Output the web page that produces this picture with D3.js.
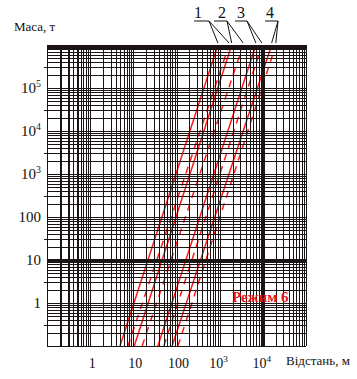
<!DOCTYPE html>
<html><head><meta charset="utf-8">
<script src="https://cdn.jsdelivr.net/npm/d3@7/dist/d3.min.js"></script>
<style>html,body{margin:0;padding:0;background:#fff;}svg{display:block;}</style>
</head><body>
<svg id="c" width="357" height="379"></svg>
<script>
// ---- data ----
const curveNames = ["1", "2", "3", "4"];
const massEnds = [0.1, 1e6];                 // mass (t) at the two ends of every line
const solidDist = [[4.9, 910], [10.5, 1900], [37, 6900], [79, 16000]];   // distance (m) at massEnds
const dashedDist = [[7.5, 1650], [16, 3500], [51, 9500], [108, 20000]];
const xTickValues = [1, 10, 100, 1000, 10000];
const xTickLabels = [["1", ""], ["10", ""], ["100", ""], ["10", "3"], ["10", "4"]];
const yTickValues = [1, 10, 100, 1000, 10000, 100000];
const yTickLabels = [["1", ""], ["10", ""], ["100", ""], ["10", "3"], ["10", "4"], ["10", "5"]];
const xTitle = "Відстань, м";
const yTitle = "Маса, т";
const modeLabel = "Режим 6";

// ---- layout ----
const svg = d3.select("#c");
const L = 47, R = 306, T = 45, B = 346;
const x = d3.scaleLog().domain([0.1, 1e5]).range([L, R]);
const y = d3.scaleLog().domain([0.1, 1e6]).range([B, T]);
const serif = "'Liberation Serif','DejaVu Serif',serif";

// red curves (drawn under the grid)
const line = d3.line().x(d => x(d[0])).y(d => y(d[1]));
const gCurves = svg.append("g");
solidDist.forEach(s => {
  gCurves.append("path").attr("d", line(s.map((r, i) => [r, massEnds[i]])))
    .attr("fill", "none").attr("stroke", "#ff1a1a").attr("stroke-width", 1.5);
});
dashedDist.forEach(s => {
  gCurves.append("path").attr("d", line(s.map((r, i) => [r, massEnds[i]])))
    .attr("fill", "none").attr("stroke", "#ff1a1a").attr("stroke-width", 1.5)
    .attr("stroke-dasharray", "7,6");
});

// grid
function logGrid(lo, hi) {
  const v = [];
  for (let e = Math.log10(lo); e < Math.log10(hi); e++)
    for (let k = 1; k <= 9; k++) v.push(k * Math.pow(10, e));
  v.push(hi);
  return v;
}
const thickX = [0.2, 0.3, 0.5, 1e4], thickY = [10, 9e5];
const near = (a, b) => Math.abs(Math.log10(a) - Math.log10(b)) < 1e-6;
const gGrid = svg.append("g").attr("shape-rendering", "crispEdges");
logGrid(0.1, 1e5).forEach(v => {
  const px = Math.round(x(v)) + 0.5;
  const thick = thickX.some(t => near(t, v));
  gGrid.append("line").attr("x1", px).attr("x2", px).attr("y1", T).attr("y2", B)
    .attr("stroke", "#1a1414").attr("stroke-width", thick ? (near(v, 1e4) ? 2.5 : 2) : 1.2);
});
logGrid(0.1, 1e6).forEach(v => {
  const py = Math.round(y(v)) + 0.5;
  const thick = thickY.some(t => near(t, v));
  gGrid.append("line").attr("x1", L).attr("x2", R).attr("y1", py).attr("y2", py)
    .attr("stroke", "#1a1414").attr("stroke-width", thick ? 2.5 : 1.2);
});
// small outer ticks on the left edge
[0.3, 3, 30, 300, 3000, 30000, 300000].forEach(v => {
  const py = Math.round(y(v)) + 0.5;
  gGrid.append("line").attr("x1", L - 3).attr("x2", L).attr("y1", py).attr("y2", py)
    .attr("stroke", "#1a1414").attr("stroke-width", 1);
});

// tick labels
function powLabel(g, lab, size) {
  g.append("tspan").text(lab[0]);
  if (lab[1]) g.append("tspan").text(lab[1]).attr("font-size", size * 0.66).attr("dy", -size * 0.42);
}
yTickValues.forEach((v, i) => {
  const t = svg.append("text").attr("x", 41).attr("y", y(v) + 5)
    .attr("text-anchor", "end").attr("font-family", serif).attr("font-size", 15).attr("fill", "#111");
  powLabel(t, yTickLabels[i], 15);
});
xTickValues.forEach((v, i) => {
  const t = svg.append("text").attr("x", x(v) + (xTickLabels[i][1] ? -1 : 2)).attr("y", 368)
    .attr("text-anchor", "middle").attr("font-family", serif).attr("font-size", 14).attr("fill", "#111");
  powLabel(t, xTickLabels[i], 14);
});

// axis titles
svg.append("text").attr("x", 14).attr("y", 31).text(yTitle)
  .attr("font-family", serif).attr("font-size", 13).attr("fill", "#111");
svg.append("text").attr("x", 286).attr("y", 365).text(xTitle)
  .attr("font-family", serif).attr("font-size", 13).attr("fill", "#111");

// curve labels with leaders
const labelPos = [{cx: 198, x1: 194, x2: 209}, {cx: 222, x1: 214, x2: 227},
                  {cx: 241, x1: 235, x2: 247}, {cx: 270, x1: 265, x2: 278}];
curveNames.forEach((n, i) => {
  const p = labelPos[i];
  svg.append("text").attr("x", p.cx).attr("y", 18).attr("text-anchor", "middle")
    .attr("font-family", serif).attr("font-size", 16).attr("fill", "#111").text(n);
  svg.append("line").attr("x1", p.x1).attr("x2", p.x2).attr("y1", 21).attr("y2", 21)
    .attr("stroke", "#111").attr("stroke-width", 1);
  [solidDist[i][1], dashedDist[i][1]].forEach(r => {
    svg.append("line").attr("x1", p.x2).attr("y1", 21).attr("x2", x(r)).attr("y2", y(massEnds[1]) - 2)
      .attr("stroke", "#111").attr("stroke-width", 1);
  });
});

// mode label
svg.append("text").attr("x", 232).attr("y", 302).text(modeLabel)
  .attr("font-family", serif).attr("font-size", 15).attr("font-weight", "bold").attr("fill", "#e8141c");
</script>
</body></html>
